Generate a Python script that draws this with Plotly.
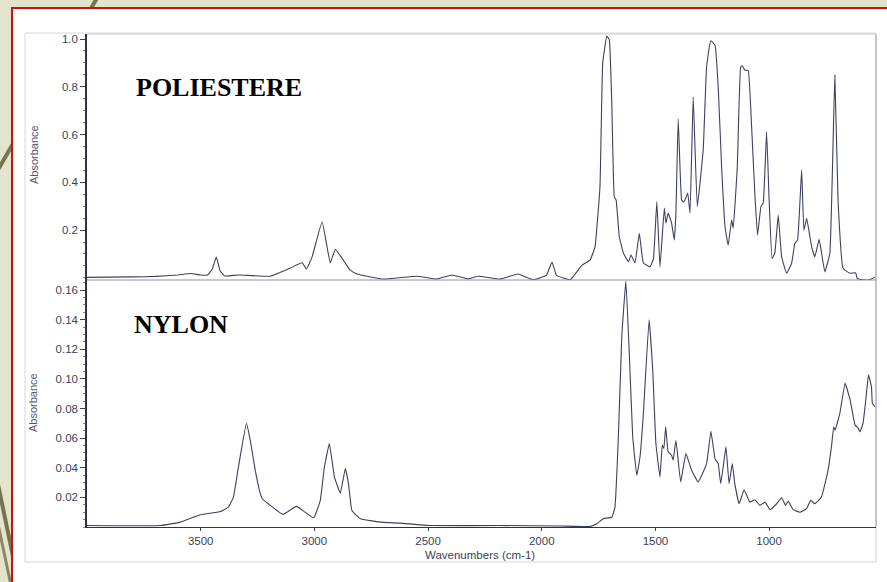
import plotly.graph_objects as go

W, H = 887, 582

# ---- data ----
poly_wn = [4000, 3800, 3700, 3600, 3545, 3500, 3470, 3450, 3431, 3415, 3395, 3334, 3194, 3106,
           3054, 3035, 3010, 2966, 2930, 2908, 2879, 2842, 2813, 2697, 2549, 2461, 2395, 2324,
           2280, 2183, 2104, 2038, 1980, 1955, 1935, 1875, 1823, 1788, 1766, 1744, 1732, 1714,
           1703, 1692, 1681, 1673, 1659, 1641, 1619, 1607, 1590, 1571, 1553, 1524, 1509, 1494,
           1480, 1461, 1454, 1444, 1429, 1417, 1410, 1400, 1385, 1378, 1370, 1358, 1348, 1334,
           1316, 1290, 1275, 1257, 1238, 1224, 1209, 1194, 1180, 1165, 1158, 1140, 1125, 1118,
           1107, 1092, 1077, 1063, 1051, 1036, 1026, 1011, 1000, 987, 975, 960, 945, 923, 901,
           887, 875, 857, 847, 835, 813, 799, 780, 755, 733, 711, 697, 675, 645, 619, 613, 587,
           557, 535]
poly_abs = [0.002, 0.004, 0.006, 0.012, 0.018, 0.012, 0.012, 0.035, 0.087, 0.030, 0.008,
            0.012, 0.007, 0.041, 0.063, 0.037, 0.088, 0.235, 0.062, 0.120, 0.083, 0.032, 0.016,
            -0.005, 0.007, -0.005, 0.012, -0.005, 0.007, -0.005, 0.016, -0.008, 0.010, 0.066,
            0.010, -0.008, 0.053, 0.074, 0.129, 0.380, 0.899, 1.012, 0.996, 0.732, 0.338, 0.326,
            0.172, 0.104, 0.067, 0.095, 0.062, 0.187, 0.062, 0.046, 0.079, 0.318, 0.046, 0.292,
            0.229, 0.271, 0.229, 0.158, 0.271, 0.665, 0.326, 0.318, 0.326, 0.355, 0.271, 0.758,
            0.298, 0.535, 0.884, 0.993, 0.975, 0.800, 0.465, 0.214, 0.137, 0.242, 0.208, 0.465,
            0.884, 0.888, 0.870, 0.867, 0.633, 0.355, 0.179, 0.298, 0.313, 0.612, 0.326, 0.081,
            0.104, 0.263, 0.088, 0.019, 0.061, 0.144, 0.158, 0.451, 0.200, 0.249, 0.130, 0.088,
            0.161, 0.025, 0.102, 0.849, 0.326, 0.040, 0.019, 0.021, -0.002, -0.008, -0.008,
            0.004]

nylon_wn = [4000, 3677, 3589, 3532, 3501, 3413, 3378, 3356, 3334, 3299, 3282, 3260, 3238, 3229,
            3194, 3138, 3079, 3003, 2974, 2956, 2934, 2912, 2886, 2864, 2850, 2835, 2798, 2710,
            2622, 2491, 2183, 1920, 1788, 1758, 1729, 1692, 1678, 1663, 1648, 1630, 1615, 1600,
            1582, 1568, 1553, 1528, 1512, 1498, 1480, 1470, 1463, 1455, 1444, 1429, 1422, 1410,
            1389, 1366, 1341, 1312, 1275, 1256, 1238, 1224, 1213, 1202, 1190, 1176, 1162, 1151,
            1132, 1110, 1085, 1063, 1041, 1018, 996, 967, 945, 928, 916, 894, 865, 836, 817,
            799, 770, 741, 726, 716, 710, 689, 666, 644, 622, 608, 601, 587, 575, 563, 550,
            546, 535]
nylon_abs = [0.001, 0.001, 0.0033, 0.0066, 0.0083, 0.0105, 0.0134, 0.0202, 0.0405, 0.070,
             0.0586, 0.0383, 0.0227, 0.0191, 0.0146, 0.0085, 0.0139, 0.0062, 0.018, 0.0405,
             0.0564, 0.0338, 0.0229, 0.0395, 0.0293, 0.0112, 0.0056, 0.0033, 0.0026, 0.0010,
             0.0010, 0.0007, 0.0003, 0.0022, 0.0056, 0.0066, 0.0134, 0.0609, 0.1287, 0.166,
             0.1174, 0.0609, 0.0349, 0.0473, 0.0767, 0.140, 0.1061, 0.0564, 0.0338, 0.0553,
             0.0530, 0.0677, 0.0507, 0.0485, 0.0451, 0.0586, 0.0304, 0.0496, 0.0383, 0.0304,
             0.0428, 0.0647, 0.0462, 0.0428, 0.0293, 0.0405, 0.0541, 0.0293, 0.0428, 0.0293,
             0.0157, 0.0252, 0.0168, 0.0184, 0.0146, 0.0168, 0.0117, 0.0157, 0.0198, 0.0146,
             0.0175, 0.0117, 0.010, 0.0123, 0.018, 0.0157, 0.0202, 0.0383, 0.0541, 0.0677,
             0.0654, 0.0767, 0.0971, 0.0858, 0.0688, 0.0666, 0.0643, 0.070, 0.0858, 0.1027,
             0.0948, 0.0835, 0.0812]

x_ticks = [3500, 3000, 2500, 2000, 1500, 1000]
top_ticks = [0.2, 0.4, 0.6, 0.8, 1.0]
bot_ticks = [0.02, 0.04, 0.06, 0.08, 0.10, 0.12, 0.14, 0.16]
labels = ["POLIESTERE", "NYLON"]

# ---- layout helpers (pixel -> paper) ----
def px(x):
    return x / W

def py(y):
    return 1 - y / H

LINE = "#3c4163"
TICKC = "#3a3f5c"
FONT = dict(family="Liberation Sans, Arial, sans-serif", size=11.5, color="#3a3f5c")
TFONT = dict(family="Liberation Sans, Arial, sans-serif", size=11, color="#555a70")

fig = go.Figure()
fig.add_trace(go.Scatter(x=poly_wn, y=poly_abs, xaxis="x2", yaxis="y2", mode="lines",
                         line=dict(color=LINE, width=1.1, shape="spline", smoothing=0.3),
                         hoverinfo="skip", showlegend=False))
fig.add_trace(go.Scatter(x=nylon_wn, y=nylon_abs, xaxis="x", yaxis="y", mode="lines",
                         line=dict(color=LINE, width=1.1, shape="spline", smoothing=0.3),
                         hoverinfo="skip", showlegend=False))

xdom = [px(87), px(876)]
ydom_bot = [py(527), py(280)]
ydom_top = [py(280), py(34)]

fig.update_layout(
    width=W, height=H,
    margin=dict(l=0, r=0, t=0, b=0),
    paper_bgcolor="#e2e5cc",
    plot_bgcolor="rgba(0,0,0,0)",
    font=FONT,
    xaxis=dict(domain=xdom, anchor="y", range=[4000, 530], tickvals=x_ticks,
               ticks="outside", ticklen=3, tickcolor=TICKC, showgrid=False, zeroline=False,
               showline=True, linecolor="#2c3150", linewidth=1.3, tickfont=FONT),
    yaxis=dict(domain=ydom_bot, anchor="x", range=[0, 0.1668], tickvals=bot_ticks,
               tickformat=".2f", ticks="outside", ticklen=5, tickcolor=TICKC,
               minor=dict(dtick=0.005, tick0=0, ticks="outside", ticklen=2, tickcolor="#888"),
               showgrid=False, zeroline=False, showline=True, linecolor="#2c3150",
               linewidth=1.5, tickfont=FONT),
    xaxis2=dict(domain=xdom, anchor="y2", range=[4000, 530], showticklabels=False,
                ticks="", showgrid=False, zeroline=False, showline=False),
    yaxis2=dict(domain=ydom_top, anchor="x2", range=[-0.009, 1.021], tickvals=top_ticks,
                tickformat=".1f", ticks="outside", ticklen=5, tickcolor=TICKC,
                minor=dict(dtick=0.05, tick0=0, ticks="outside", ticklen=2, tickcolor="#888"),
                showgrid=False, zeroline=False, showline=True, linecolor="#2c3150",
                linewidth=1.5, tickfont=FONT),
)

shapes = []
# decorative diagonal lines on the olive background
shapes.append(dict(type="line", xref="paper", yref="paper", x0=px(97), y0=py(-2), x1=px(-5), y1=py(175),
                   line=dict(color="#7a7350", width=4), layer="below"))
shapes.append(dict(type="line", xref="paper", yref="paper", x0=px(-5), y0=py(470), x1=px(20), y1=py(590),
                   line=dict(color="#7a7350", width=4), layer="below"))
shapes.append(dict(type="line", xref="paper", yref="paper", x0=px(-5), y0=py(510), x1=px(12), y1=py(590),
                   line=dict(color="#8d8763", width=3), layer="below"))
# white slide box with red border
shapes.append(dict(type="rect", xref="paper", yref="paper", x0=px(12), y0=py(8), x1=px(900), y1=py(600),
                   fillcolor="white", line=dict(color="#cc1111", width=2), layer="below"))
# light grey frame of the scanned chart
shapes.append(dict(type="rect", xref="paper", yref="paper", x0=px(25), y0=py(33), x1=px(876), y1=py(562),
                   fillcolor="rgba(0,0,0,0)", line=dict(color="#d4d6dc", width=1), layer="below"))
# plot panel borders
shapes.append(dict(type="line", xref="paper", yref="paper", x0=px(87), y0=py(34), x1=px(876), y1=py(34),
                   line=dict(color="#c8cad2", width=1)))
shapes.append(dict(type="line", xref="paper", yref="paper", x0=px(876), y0=py(34), x1=px(876), y1=py(527),
                   line=dict(color="#9a9dab", width=1)))
shapes.append(dict(type="line", xref="paper", yref="paper", x0=px(87), y0=py(280), x1=px(876), y1=py(280),
                   line=dict(color="#8e91a3", width=1)))
fig.update_layout(shapes=shapes)

fig.add_annotation(text="<b>%s</b>" % labels[0], xref="paper", yref="paper", x=px(134), y=py(87),
                   xanchor="left", yanchor="middle", showarrow=False,
                   font=dict(family="Liberation Serif, Times New Roman, serif", size=26, color="black"))
fig.add_annotation(text="<b>%s</b>" % labels[1], xref="paper", yref="paper", x=px(132), y=py(324),
                   xanchor="left", yanchor="middle", showarrow=False,
                   font=dict(family="Liberation Serif, Times New Roman, serif", size=26, color="black"))
# axis titles
fig.add_annotation(text="Absorbance", xref="paper", yref="paper", x=px(34), y=py(155),
                   textangle=-90, showarrow=False, xanchor="center", yanchor="middle", font=TFONT)
fig.add_annotation(text="Absorbance", xref="paper", yref="paper", x=px(33), y=py(403),
                   textangle=-90, showarrow=False, xanchor="center", yanchor="middle", font=TFONT)
fig.add_annotation(text="Wavenumbers (cm-1)", xref="paper", yref="paper", x=px(480), y=py(555),
                   showarrow=False, xanchor="center", yanchor="middle",
                   font=dict(family=FONT["family"], size=11.5, color="#3a3f5c"))

fig.write_html("out.html")
